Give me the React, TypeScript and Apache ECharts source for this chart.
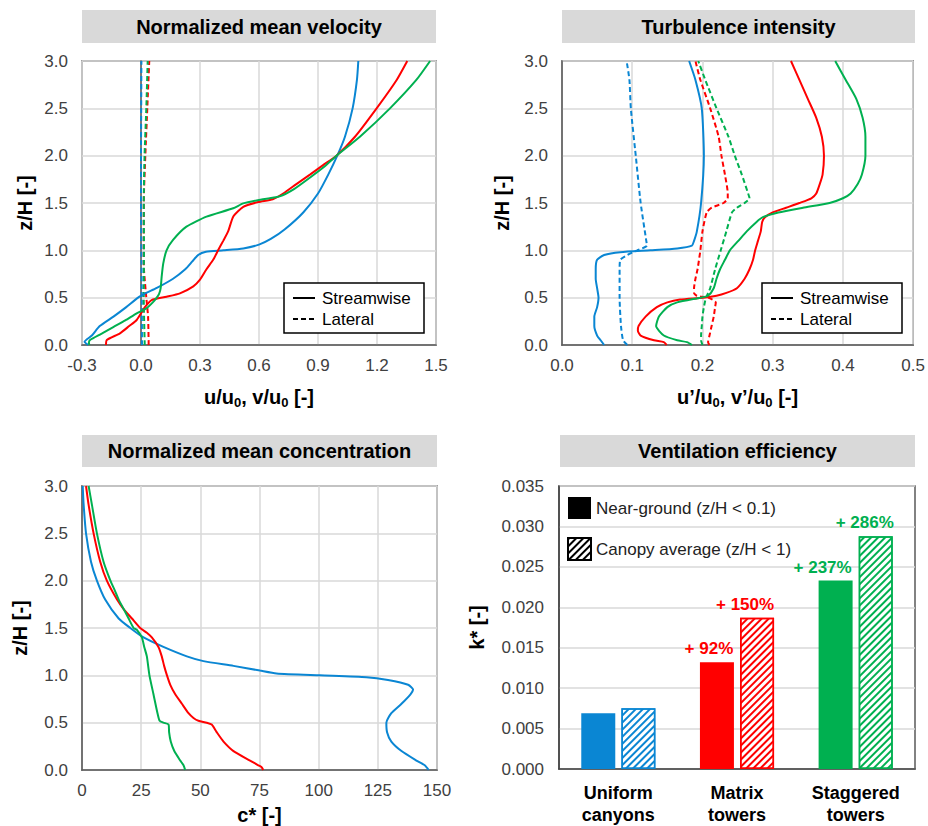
import React, { useEffect, useRef } from "react";
import * as echarts from "echarts";

const FONT = '"Liberation Sans", Arial, sans-serif';
const BLUE = "#0A86D3";
const RED = "#FF0000";
const GREEN = "#00B050";

// ---- Panel 1: normalized mean velocity  [x, z/H]
const velUniformStream = [[-0.268,0],[-0.287,0.035],[-0.25,0.1],[-0.21,0.2],[-0.14,0.3],[-0.075,0.4],[-0.015,0.5],[0.027,0.55],[0.078,0.6],[0.163,0.7],[0.225,0.8],[0.26,0.88],[0.29,0.95],[0.33,0.985],[0.42,1.0],[0.52,1.02],[0.6,1.06],[0.66,1.12],[0.73,1.22],[0.825,1.4],[0.9,1.6],[0.952,1.8],[0.998,2.0],[1.037,2.2],[1.076,2.5],[1.098,2.8],[1.105,3.0]];
const velMatrixStream = [[-0.178,0],[-0.174,0.053],[-0.107,0.123],[-0.06,0.2],[-0.022,0.264],[0.02,0.4],[0.054,0.475],[0.13,0.51],[0.198,0.546],[0.266,0.62],[0.3,0.69],[0.333,0.8],[0.367,0.9],[0.392,1.0],[0.418,1.1],[0.443,1.2],[0.47,1.36],[0.52,1.46],[0.596,1.51],[0.67,1.54],[0.723,1.6],[0.79,1.7],[0.859,1.8],[0.926,1.9],[0.994,2.0],[1.088,2.2],[1.198,2.5],[1.3,2.8],[1.354,3.0]];
const velStaggeredStream = [[-0.262,0],[-0.265,0.02],[-0.259,0.053],[-0.2,0.12],[-0.141,0.19],[-0.08,0.26],[-0.022,0.335],[0.029,0.39],[0.06,0.45],[0.08,0.5],[0.092,0.54],[0.1,0.6],[0.105,0.72],[0.113,0.86],[0.13,1.0],[0.163,1.11],[0.231,1.25],[0.333,1.356],[0.469,1.444],[0.52,1.496],[0.62,1.54],[0.705,1.57],[0.78,1.65],[0.86,1.77],[0.93,1.88],[0.994,2.0],[1.113,2.2],[1.266,2.5],[1.4,2.8],[1.47,3.0]];
const velUniformLat = [[0.005,0],[0.004,0.5],[0.002,1.0],[0.0,1.5],[0.0,2.0],[0.001,2.5],[0.002,3.0]];
const velMatrixLat = [[0.039,0],[0.036,0.3],[0.027,0.5],[0.015,0.8],[0.014,1.0],[0.014,1.5],[0.022,2.0],[0.032,2.5],[0.042,3.0]];
const velStaggeredLat = [[0.019,0],[0.014,0.5],[0.015,1.0],[0.014,1.5],[0.018,2.0],[0.027,2.5],[0.034,3.0]];

// ---- Panel 2: turbulence intensity  [x, z/H]
const tiUniformStream = [[0.06,0],[0.055,0.05],[0.05,0.1],[0.046,0.2],[0.046,0.3],[0.05,0.4],[0.052,0.5],[0.05,0.6],[0.048,0.7],[0.048,0.8],[0.05,0.9],[0.06,0.95],[0.083,0.98],[0.126,1.0],[0.164,1.02],[0.185,1.05],[0.188,1.1],[0.192,1.2],[0.198,1.5],[0.202,2.0],[0.199,2.5],[0.19,2.8],[0.181,3.0]];
const tiUniformLat = [[0.093,0],[0.087,0.05],[0.084,0.2],[0.082,0.5],[0.082,0.8],[0.083,0.9],[0.093,0.95],[0.107,1.0],[0.121,1.05],[0.12,1.1],[0.112,1.5],[0.105,2.0],[0.098,2.5],[0.096,2.8],[0.092,3.0]];
const tiMatrixStream = [[0.149,0],[0.145,0.03],[0.131,0.05],[0.112,0.1],[0.108,0.15],[0.109,0.2],[0.119,0.3],[0.135,0.4],[0.15,0.45],[0.168,0.48],[0.201,0.5],[0.22,0.52],[0.234,0.55],[0.249,0.6],[0.26,0.7],[0.267,0.8],[0.272,0.9],[0.275,1.0],[0.279,1.1],[0.283,1.2],[0.285,1.3],[0.289,1.35],[0.3,1.4],[0.319,1.45],[0.338,1.5],[0.355,1.55],[0.362,1.6],[0.367,1.7],[0.371,1.8],[0.373,2.0],[0.37,2.2],[0.362,2.4],[0.35,2.6],[0.338,2.8],[0.326,3.0]];
const tiMatrixLat = [[0.21,0],[0.208,0.03],[0.21,0.1],[0.213,0.2],[0.216,0.3],[0.218,0.4],[0.219,0.45],[0.208,0.5],[0.192,0.52],[0.188,0.55],[0.188,0.6],[0.19,0.7],[0.193,0.8],[0.197,1.0],[0.2,1.2],[0.206,1.4],[0.213,1.45],[0.23,1.5],[0.236,1.55],[0.236,1.6],[0.232,1.8],[0.227,2.0],[0.223,2.2],[0.211,2.5],[0.197,2.8],[0.19,3.0]];
const tiStaggeredStream = [[0.185,0],[0.178,0.03],[0.164,0.05],[0.145,0.1],[0.134,0.2],[0.138,0.3],[0.15,0.4],[0.164,0.45],[0.197,0.5],[0.208,0.52],[0.216,0.6],[0.22,0.7],[0.225,0.8],[0.232,0.9],[0.239,1.0],[0.251,1.1],[0.263,1.2],[0.277,1.3],[0.286,1.35],[0.308,1.4],[0.343,1.45],[0.381,1.5],[0.4,1.55],[0.411,1.6],[0.421,1.7],[0.427,1.8],[0.432,2.0],[0.432,2.2],[0.428,2.4],[0.419,2.6],[0.404,2.8],[0.389,3.0]];
const tiStaggeredLat = [[0.2,0],[0.198,0.05],[0.198,0.1],[0.199,0.2],[0.2,0.3],[0.202,0.4],[0.205,0.5],[0.211,0.6],[0.218,0.8],[0.226,1.0],[0.234,1.2],[0.242,1.4],[0.249,1.45],[0.26,1.5],[0.267,1.55],[0.265,1.6],[0.256,1.8],[0.246,2.0],[0.237,2.2],[0.22,2.5],[0.204,2.8],[0.194,3.0]];

// ---- Panel 3: normalized mean concentration  [c*, z/H]
const concUniform = [[146.5,0],[144.8,0.05],[141.3,0.1],[135,0.2],[130.7,0.3],[128.9,0.4],[128.6,0.5],[130.7,0.6],[135,0.7],[138.8,0.8],[139.9,0.85],[137.8,0.9],[129.3,0.95],[120.2,0.98],[100.5,1.0],[82.2,1.02],[75.2,1.05],[64,1.1],[51.3,1.15],[44.3,1.2],[34.4,1.3],[26,1.4],[20.4,1.5],[15.5,1.6],[9.8,1.8],[6.3,2.0],[3.8,2.2],[1.7,2.5],[0.7,2.8],[0.3,3.0]];
const concMatrix = [[76.6,0],[75.9,0.03],[74.5,0.05],[71,0.1],[64,0.2],[59.8,0.3],[56.9,0.4],[54.8,0.48],[52.7,0.5],[49.2,0.52],[47.1,0.55],[45,0.6],[42.2,0.7],[39.4,0.8],[37.3,0.9],[35.9,1.0],[34.7,1.1],[33.7,1.2],[32.3,1.3],[29.5,1.4],[27.4,1.45],[24.6,1.5],[21.1,1.6],[17.6,1.7],[14.8,1.8],[10.5,2.0],[7.7,2.2],[4.9,2.5],[2.8,2.8],[1.7,3.0]];
const concStaggered = [[43.6,0],[42.9,0.05],[41.5,0.1],[39,0.2],[37.5,0.3],[36.8,0.4],[36.6,0.48],[34.4,0.5],[32.8,0.52],[31.9,0.6],[30.2,0.8],[28.5,1.0],[27.4,1.2],[26.3,1.3],[25.3,1.4],[23.2,1.48],[21.8,1.5],[19.7,1.6],[17.6,1.7],[15.5,1.8],[13.8,1.9],[12,2.0],[9.1,2.2],[6.3,2.5],[4.2,2.8],[2.8,3.0]];

// ---- Panel 4: ventilation efficiency
const layouts = ["Uniform\ncanyons", "Matrix\ntowers", "Staggered\ntowers"];
const layoutColors = [BLUE, RED, GREEN];
const kNearGround = [0.0069, 0.0132, 0.0233];
const kCanopy = [0.0075, 0.0187, 0.0288];
const gainNearGround = ["", "+ 92%", "+ 237%"];
const gainCanopy = ["", "+ 150%", "+ 286%"];

const panelTitles = ["Normalized mean velocity", "Turbulence intensity", "Normalized mean concentration", "Ventilation efficiency"];
const profileLegend = ["Streamwise", "Lateral"];

const GRIDS = [
  { left: 82, top: 61, width: 354, height: 284 },
  { left: 562, top: 61, width: 353, height: 284 },
  { left: 82, top: 486, width: 355, height: 284 },
  { left: 559, top: 486, width: 356, height: 284 },
];
const TITLE_BOXES = [
  { x: 82, y: 10, w: 354, h: 33 },
  { x: 562, y: 10, w: 353, h: 33 },
  { x: 82, y: 435, w: 355, h: 32 },
  { x: 560, y: 435, w: 355, h: 32 },
];
const LEGEND_BOXES = [
  { x: 284, y: 283 },
  { x: 762, y: 283 },
];

const labelStyle = { fontFamily: FONT, fontSize: 17, color: "#404040" };
const nameStyle = { fontFamily: FONT, fontSize: 20, fontWeight: "bold", color: "#000" };
const splitLine = { show: true, lineStyle: { color: "#d9d9d9", width: 1.5 } };
const axisLine = { show: true, lineStyle: { color: "#595959", width: 1.5 } };
const fmt1 = (v: number) => (Math.abs(v) < 1e-9 ? "0.0" : v.toFixed(1));

function zAxis(gi: number, nameGap: number) {
  return {
    type: "value", gridIndex: gi, min: 0, max: 3, interval: 0.5,
    name: "z/H [-]", nameLocation: "middle", nameGap, nameRotate: 90, nameTextStyle: nameStyle,
    axisLabel: { ...labelStyle, margin: 14, formatter: fmt1 },
    axisTick: { show: false }, axisLine, splitLine,
  };
}

function line(name: string, data: number[][], color: string, dashed: boolean, gi: number) {
  return {
    type: "line", name, data, xAxisIndex: gi, yAxisIndex: gi, symbol: "none", smooth: 0.2,
    lineStyle: { color, width: 2, type: dashed ? [5, 3] : "solid" },
    itemStyle: { color }, silent: true, z: dashed ? 3 : 4,
  };
}

const hatch = (color: string) => ({
  color, symbol: "rect", symbolSize: 1, dashArrayX: [1, 0], dashArrayY: [2, 3], rotation: -Math.PI / 4,
});

export default function App() {
  const ref = useRef<HTMLDivElement>(null);
  useEffect(() => {
    if (!ref.current) return;
    const chart = echarts.init(ref.current, null, { renderer: "svg" });
    const graphic: any[] = [];
    TITLE_BOXES.forEach((b, i) => {
      graphic.push({ type: "rect", shape: { x: b.x, y: b.y, width: b.w, height: b.h }, style: { fill: "#d9d9d9" }, z: 0 });
      graphic.push({
        type: "text", x: b.x + b.w / 2, y: b.y + b.h / 2,
        style: { text: panelTitles[i], fontFamily: FONT, fontSize: 20, fontWeight: "bold", fill: "#000", align: "center", verticalAlign: "middle" },
        z: 1,
      });
    });
    LEGEND_BOXES.forEach((b) => {
      graphic.push({ type: "rect", shape: { x: b.x, y: b.y, width: 140, height: 50 }, style: { fill: "#fff", stroke: "#000", lineWidth: 1.5 }, z: 100 });
      profileLegend.forEach((name, k) => {
        const cy = b.y + 15 + k * 21;
        graphic.push({ type: "line", shape: { x1: b.x + 9, y1: cy, x2: b.x + 31, y2: cy }, style: { stroke: "#000", lineWidth: 2, lineDash: k === 1 ? [5, 3] : null }, z: 101 });
        graphic.push({ type: "text", x: b.x + 38, y: cy, style: { text: name, fontFamily: FONT, fontSize: 17, fill: "#000", align: "left", verticalAlign: "middle" }, z: 101 });
      });
    });

    const subRich = { s: { ...nameStyle, fontSize: 13, verticalAlign: "bottom", padding: [12, 0, 0, 0] } };

    const option: any = {
      animation: false,
      textStyle: { fontFamily: FONT },
      grid: GRIDS.map((g) => ({ ...g, show: true, borderColor: "#595959", borderWidth: 1.5, backgroundColor: "#fff" })),
      xAxis: [
        {
          type: "value", gridIndex: 0, min: -0.3, max: 1.5, interval: 0.3,
          name: "u/u{s|0}, v/u{s|0} [-]", nameLocation: "middle", nameGap: 39,
          nameTextStyle: { ...nameStyle, rich: subRich },
          axisLabel: { ...labelStyle, margin: 12, formatter: fmt1 }, axisTick: { show: false }, axisLine, splitLine,
        },
        {
          type: "value", gridIndex: 1, min: 0, max: 0.5, interval: 0.1,
          name: "u\u2019/u{s|0}, v\u2019/u{s|0} [-]", nameLocation: "middle", nameGap: 39,
          nameTextStyle: { ...nameStyle, rich: subRich },
          axisLabel: { ...labelStyle, margin: 12, formatter: fmt1 }, axisTick: { show: false }, axisLine, splitLine,
        },
        {
          type: "value", gridIndex: 2, min: 0, max: 150, interval: 25,
          name: "c* [-]", nameLocation: "middle", nameGap: 35, nameTextStyle: nameStyle,
          axisLabel: { ...labelStyle, margin: 12 }, axisTick: { show: false }, axisLine, splitLine,
        },
        {
          type: "category", gridIndex: 3, data: layouts,
          axisLabel: { fontFamily: FONT, fontSize: 18, fontWeight: "bold", color: "#000", lineHeight: 22, margin: 13 },
          axisTick: { show: false }, axisLine: { show: true, lineStyle: { color: "#404040", width: 1.5 } }, splitLine: { show: false },
        },
      ],
      yAxis: [
        zAxis(0, 47),
        zAxis(1, 50),
        zAxis(2, 52),
        {
          type: "value", gridIndex: 3, min: 0, max: 0.035, interval: 0.005,
          name: "k* [-]", nameLocation: "middle", nameGap: 72, nameRotate: 90, nameTextStyle: nameStyle,
          axisLabel: { ...labelStyle, fontSize: 17, margin: 15, formatter: (v: number) => v.toFixed(3) },
          axisTick: { show: false }, axisLine: { show: true, lineStyle: { color: "#404040", width: 1.5 } }, splitLine,
        },
      ],
      legend: [
        {
          data: ["Near-ground (z/H < 0.1)", "Canopy average (z/H < 1)"], orient: "vertical", left: 567, top: 497,
          padding: 0, itemGap: 18, itemWidth: 23, itemHeight: 22, icon: "rect",
          textStyle: { fontFamily: FONT, fontSize: 17, color: "#222" }, selectedMode: false, z: 10,
        },
      ],
      series: [
        line("Uniform canyons lateral", velUniformLat, BLUE, true, 0),
        line("Matrix towers lateral", velMatrixLat, RED, true, 0),
        line("Staggered towers lateral", velStaggeredLat, GREEN, true, 0),
        line("Uniform canyons streamwise", velUniformStream, BLUE, false, 0),
        line("Matrix towers streamwise", velMatrixStream, RED, false, 0),
        line("Staggered towers streamwise", velStaggeredStream, GREEN, false, 0),
        line("Uniform canyons v'", tiUniformLat, BLUE, true, 1),
        line("Matrix towers v'", tiMatrixLat, RED, true, 1),
        line("Staggered towers v'", tiStaggeredLat, GREEN, true, 1),
        line("Uniform canyons u'", tiUniformStream, BLUE, false, 1),
        line("Matrix towers u'", tiMatrixStream, RED, false, 1),
        line("Staggered towers u'", tiStaggeredStream, GREEN, false, 1),
        line("Uniform canyons c*", concUniform, BLUE, false, 2),
        line("Matrix towers c*", concMatrix, RED, false, 2),
        line("Staggered towers c*", concStaggered, GREEN, false, 2),
        {
          type: "bar", name: "Near-ground (z/H < 0.1)", xAxisIndex: 3, yAxisIndex: 3, barWidth: 34, barGap: "18%",
          itemStyle: { color: "#000" }, silent: true,
          data: kNearGround.map((v, i) => ({
            value: v, itemStyle: { color: layoutColors[i] },
            label: { show: !!gainNearGround[i], position: "top", distance: 5, formatter: gainNearGround[i], color: layoutColors[i], fontFamily: FONT, fontSize: 17, fontWeight: "bold", offset: [i === 1 ? -8 : -13, 0] },
          })),
        },
        {
          type: "bar", name: "Canopy average (z/H < 1)", xAxisIndex: 3, yAxisIndex: 3, barWidth: 34, barGap: "18%",
          itemStyle: { color: "#fff", borderColor: "#000", borderWidth: 1.5, decal: hatch("#000") }, silent: true,
          data: kCanopy.map((v, i) => ({
            value: v, itemStyle: { color: "#fff", borderColor: layoutColors[i], borderWidth: 1.5, decal: hatch(layoutColors[i]) },
            label: { show: !!gainCanopy[i], position: "top", distance: 5, formatter: gainCanopy[i], color: layoutColors[i], fontFamily: FONT, fontSize: 17, fontWeight: "bold", offset: [i === 1 ? -12 : -11, 0] },
          })),
        },
      ],
      graphic,
    };
    chart.setOption(option);
    return () => chart.dispose();
  }, []);
  return <div ref={ref} style={{ position: "fixed", left: 0, top: 0, width: 928, height: 826, background: "#fff" }} />;
}
